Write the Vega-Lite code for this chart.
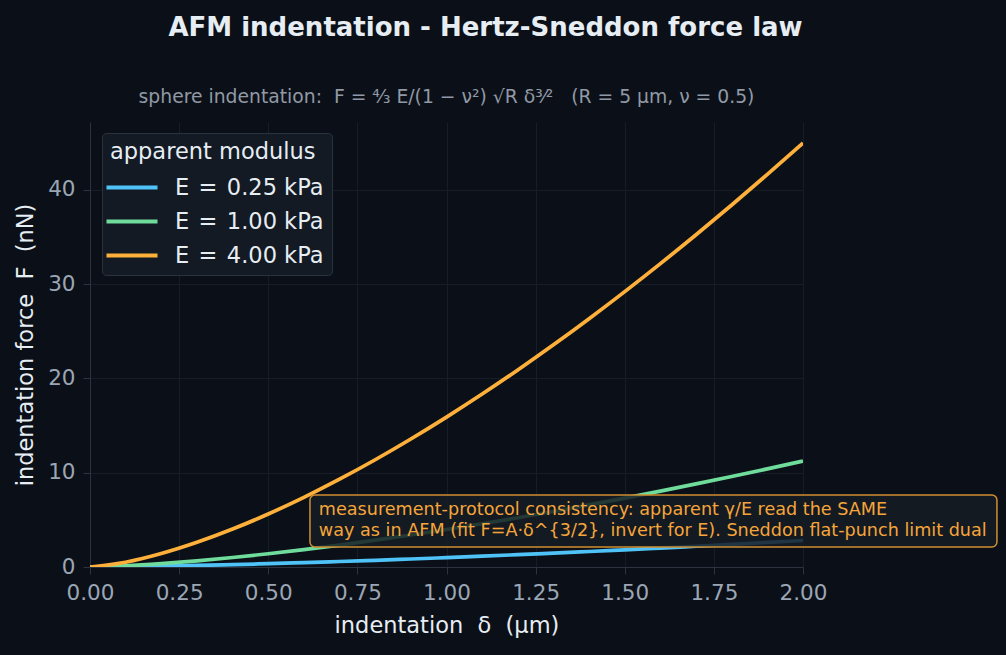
{
  "$schema": "https://vega.github.io/schema/vega-lite/v6.json",
  "width": 713,
  "height": 445,
  "autosize": {"type": "none"},
  "padding": {"left": 90, "top": 122, "right": 203, "bottom": 88},
  "background": "#0b1018",
  "title": {
    "text": "AFM indentation - Hertz-Sneddon force law",
    "anchor": "middle",
    "dx": 39,
    "offset": 47,
    "fontSize": 26,
    "font": "DejaVu Sans",
    "fontWeight": "bold",
    "color": "#e6edf3"
  },
  "config": {
    "view": {"stroke": null},
    "font": "DejaVu Sans",
    "axis": {
      "domainColor": "#2b3340",
      "tickColor": "#2b3340",
      "tickSize": 7,
      "gridColor": "#161d27",
      "labelColor": "#9ba6b5",
      "labelFontSize": 21.5,
      "labelFlush": false,
      "labelOverlap": false,
      "labelBound": false,
      "titleColor": "#e6edf3",
      "titleFontSize": 22.5,
      "titleFontWeight": "normal"
    },
    "legend": {
      "fillColor": "#131a23",
      "strokeColor": "#2a323d",
      "cornerRadius": 4,
      "padding": 8,
      "titleFontSize": 22.5,
      "titleFontWeight": "normal",
      "titleColor": "#e6edf3",
      "titlePadding": 2,
      "titleLimit": 400,
      "labelLimit": 400,
      "labelFontSize": 22.5,
      "labelColor": "#e6edf3",
      "symbolType": "M-1.275,0H1.275",
      "symbolStrokeWidth": 4,
      "symbolSize": 1600,
      "labelOffset": 21,
      "rowPadding": 0
    }
  },
  "datasets": {
    "curves": [
      {"d": 0.0, "F": 0.0, "E": "E = 0.25 kPa"},
      {"d": 0.1, "F": 0.031, "E": "E = 0.25 kPa"},
      {"d": 0.2, "F": 0.089, "E": "E = 0.25 kPa"},
      {"d": 0.3, "F": 0.163, "E": "E = 0.25 kPa"},
      {"d": 0.4, "F": 0.251, "E": "E = 0.25 kPa"},
      {"d": 0.5, "F": 0.351, "E": "E = 0.25 kPa"},
      {"d": 0.6, "F": 0.462, "E": "E = 0.25 kPa"},
      {"d": 0.7, "F": 0.582, "E": "E = 0.25 kPa"},
      {"d": 0.8, "F": 0.711, "E": "E = 0.25 kPa"},
      {"d": 0.9, "F": 0.849, "E": "E = 0.25 kPa"},
      {"d": 1.0, "F": 0.994, "E": "E = 0.25 kPa"},
      {"d": 1.1, "F": 1.147, "E": "E = 0.25 kPa"},
      {"d": 1.2, "F": 1.306, "E": "E = 0.25 kPa"},
      {"d": 1.3, "F": 1.473, "E": "E = 0.25 kPa"},
      {"d": 1.4, "F": 1.646, "E": "E = 0.25 kPa"},
      {"d": 1.5, "F": 1.826, "E": "E = 0.25 kPa"},
      {"d": 1.6, "F": 2.011, "E": "E = 0.25 kPa"},
      {"d": 1.7, "F": 2.203, "E": "E = 0.25 kPa"},
      {"d": 1.8, "F": 2.4, "E": "E = 0.25 kPa"},
      {"d": 1.9, "F": 2.603, "E": "E = 0.25 kPa"},
      {"d": 2.0, "F": 2.811, "E": "E = 0.25 kPa"},
      {"d": 0.0, "F": 0.0, "E": "E = 1.00 kPa"},
      {"d": 0.1, "F": 0.126, "E": "E = 1.00 kPa"},
      {"d": 0.2, "F": 0.356, "E": "E = 1.00 kPa"},
      {"d": 0.3, "F": 0.653, "E": "E = 1.00 kPa"},
      {"d": 0.4, "F": 1.006, "E": "E = 1.00 kPa"},
      {"d": 0.5, "F": 1.405, "E": "E = 1.00 kPa"},
      {"d": 0.6, "F": 1.847, "E": "E = 1.00 kPa"},
      {"d": 0.7, "F": 2.328, "E": "E = 1.00 kPa"},
      {"d": 0.8, "F": 2.844, "E": "E = 1.00 kPa"},
      {"d": 0.9, "F": 3.394, "E": "E = 1.00 kPa"},
      {"d": 1.0, "F": 3.975, "E": "E = 1.00 kPa"},
      {"d": 1.1, "F": 4.586, "E": "E = 1.00 kPa"},
      {"d": 1.2, "F": 5.225, "E": "E = 1.00 kPa"},
      {"d": 1.3, "F": 5.892, "E": "E = 1.00 kPa"},
      {"d": 1.4, "F": 6.584, "E": "E = 1.00 kPa"},
      {"d": 1.5, "F": 7.302, "E": "E = 1.00 kPa"},
      {"d": 1.6, "F": 8.045, "E": "E = 1.00 kPa"},
      {"d": 1.7, "F": 8.811, "E": "E = 1.00 kPa"},
      {"d": 1.8, "F": 9.6, "E": "E = 1.00 kPa"},
      {"d": 1.9, "F": 10.41, "E": "E = 1.00 kPa"},
      {"d": 2.0, "F": 11.243, "E": "E = 1.00 kPa"},
      {"d": 0.0, "F": 0.0, "E": "E = 4.00 kPa"},
      {"d": 0.1, "F": 0.503, "E": "E = 4.00 kPa"},
      {"d": 0.2, "F": 1.422, "E": "E = 4.00 kPa"},
      {"d": 0.3, "F": 2.613, "E": "E = 4.00 kPa"},
      {"d": 0.4, "F": 4.022, "E": "E = 4.00 kPa"},
      {"d": 0.5, "F": 5.621, "E": "E = 4.00 kPa"},
      {"d": 0.6, "F": 7.39, "E": "E = 4.00 kPa"},
      {"d": 0.7, "F": 9.312, "E": "E = 4.00 kPa"},
      {"d": 0.8, "F": 11.377, "E": "E = 4.00 kPa"},
      {"d": 0.9, "F": 13.576, "E": "E = 4.00 kPa"},
      {"d": 1.0, "F": 15.9, "E": "E = 4.00 kPa"},
      {"d": 1.1, "F": 18.344, "E": "E = 4.00 kPa"},
      {"d": 1.2, "F": 20.901, "E": "E = 4.00 kPa"},
      {"d": 1.3, "F": 23.567, "E": "E = 4.00 kPa"},
      {"d": 1.4, "F": 26.338, "E": "E = 4.00 kPa"},
      {"d": 1.5, "F": 29.21, "E": "E = 4.00 kPa"},
      {"d": 1.6, "F": 32.179, "E": "E = 4.00 kPa"},
      {"d": 1.7, "F": 35.243, "E": "E = 4.00 kPa"},
      {"d": 1.8, "F": 38.398, "E": "E = 4.00 kPa"},
      {"d": 1.9, "F": 41.642, "E": "E = 4.00 kPa"},
      {"d": 2.0, "F": 44.972, "E": "E = 4.00 kPa"}
    ]
  },
  "layer": [
    {
      "data": {"name": "curves"},
      "mark": {"type": "line", "strokeWidth": 3.7, "clip": true, "interpolate": "monotone"},
      "encoding": {
        "x": {
          "field": "d",
          "type": "quantitative",
          "scale": {"domain": [0, 2], "nice": false},
          "axis": {
            "title": "indentation \u00a0δ\u00a0 (μm)",
            "values": [0, 0.25, 0.5, 0.75, 1, 1.25, 1.5, 1.75, 2],
            "format": ".2f",
            "labelPadding": 8,
            "titlePadding": 11
          }
        },
        "y": {
          "field": "F",
          "type": "quantitative",
          "scale": {"domain": [0, 47.2], "nice": false},
          "axis": {
            "title": "indentation force \u00a0F\u00a0 (nN)",
            "values": [0, 10, 20, 30, 40],
            "labelPadding": 8,
            "titlePadding": 10
          }
        },
        "color": {
          "field": "E",
          "type": "nominal",
          "scale": {
            "domain": ["E = 0.25 kPa", "E = 1.00 kPa", "E = 4.00 kPa"],
            "range": ["#4fc3f7", "#6fdc9c", "#ffb03b"]
          },
          "legend": {
            "title": "apparent modulus",
            "orient": "none",
            "legendX": 12,
            "legendY": 11,
            "labelExpr": "replace(datum.label, ' = ', '\u00a0\u200a=\u00a0\u200a')"
          }
        }
      }
    },
    {
      "data": {"values": [{"x": 0.617, "x2": 2.544, "y": 2.12, "y2": 7.64}]},
      "mark": {
        "type": "rect",
        "fill": "#161c25",
        "fillOpacity": 0.85,
        "stroke": "#d08f30",
        "strokeWidth": 1.5,
        "cornerRadius": 5,
        "clip": false
      },
      "encoding": {
        "x": {"field": "x", "type": "quantitative"},
        "x2": {"field": "x2"},
        "y": {"field": "y", "type": "quantitative"},
        "y2": {"field": "y2"}
      }
    },
    {
      "data": {"values": [{"x": 0.642, "y": 6.0, "label": "measurement-protocol consistency: apparent γ/E read the SAME\nway as in AFM (fit F=A·δ^{3/2}, invert for E). Sneddon flat-punch limit dual"}]},
      "mark": {
        "type": "text",
        "align": "left",
        "baseline": "middle",
        "lineBreak": "\n",
        "lineHeight": 20.5,
        "fontSize": 17.6,
        "color": "#f5a53a",
        "clip": false
      },
      "encoding": {
        "x": {"field": "x", "type": "quantitative"},
        "y": {"field": "y", "type": "quantitative"},
        "text": {"field": "label"}
      }
    },
    {
      "data": {"values": [{"x": 1.0, "y": 49.85, "label": "sphere indentation: \u00a0F = ⁴⁄₃ E/(1 − ν²) √R δ³⁄² \u00a0 (R = 5 μm, ν = 0.5)"}]},
      "mark": {
        "type": "text",
        "align": "center",
        "baseline": "middle",
        "fontSize": 18.75,
        "color": "#9199a6",
        "clip": false
      },
      "encoding": {
        "x": {"field": "x", "type": "quantitative"},
        "y": {"field": "y", "type": "quantitative"},
        "text": {"field": "label"}
      }
    }
  ]
}
